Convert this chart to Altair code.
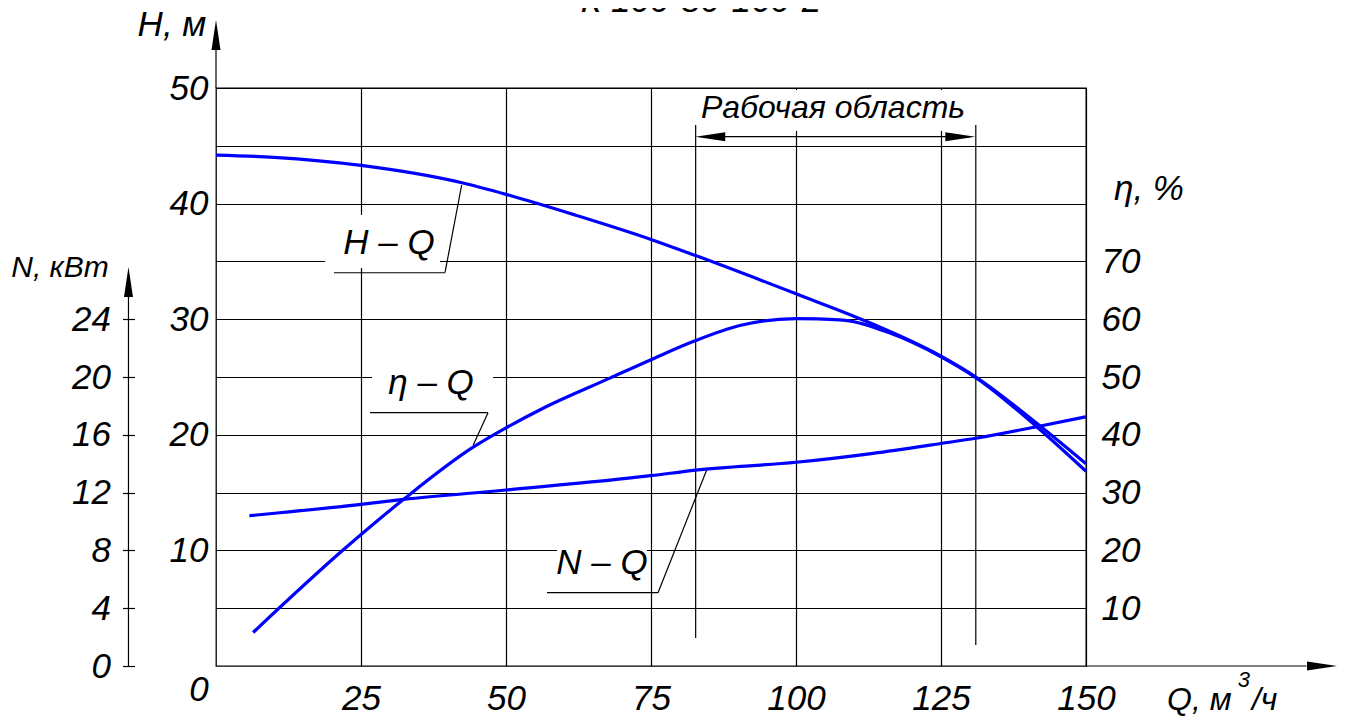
import altair as alt
import pandas as pd

# ---------------- data ----------------
TITLE = "К 100-80-160-2"

Q_H = [0, 10, 25, 42.4, 50, 62, 75, 82.7, 100, 112.2, 125, 131, 141.5, 150]
H_M = [44.2, 44.0, 43.3, 41.8, 40.8, 39.0, 36.9, 35.5, 32.2, 29.8, 26.8, 25.0, 21.0, 17.5]

Q_ETA = [6.4, 21.95, 32.3, 44.4, 50, 56.4, 67.9, 75, 82.7, 90.3, 100, 107.6, 116.2, 125, 131, 141.5, 150]
ETA_PCT = [5.8, 20.1, 28.8, 37.9, 41.2, 44.6, 49.8, 53.0, 56.3, 58.9, 60.1, 59.9, 57.6, 53.5, 49.9, 41.4, 33.7]

Q_N = [5.75, 25, 32.3, 50, 75, 82.7, 100, 113.3, 125, 131, 141.5, 150]
N_KW = [10.4, 11.19, 11.53, 12.18, 13.17, 13.56, 14.1, 14.72, 15.4, 15.76, 16.56, 17.25]

WORK_Q = [82.7, 131]          # limits of the working region
Q_TICKS = [25, 50, 75, 100, 125, 150]
H_GRID = [5, 10, 15, 20, 25, 30, 35, 40, 45, 50]
ETA_TICKS = [10, 20, 30, 40, 50, 60, 70]
N_TICKS = [0, 4, 8, 12, 16, 20, 24]

FONT = "Liberation Sans, Arial, sans-serif"
BLUE = "#0000ff"
FS = 35

XS = alt.Scale(domain=[0, 150], nice=False, zero=False)
YS = alt.Scale(domain=[0, 50], nice=False, zero=False)

AX_Q = alt.Axis(values=Q_TICKS, grid=True, domain=False, ticks=False, tickSize=0, title=None,
                labelPadding=15, labelAngle=0, labelFlush=False, labelOverlap=False)
AX_H = alt.Axis(values=H_GRID, grid=True, domain=False, ticks=False, tickSize=0, title=None,
                labelPadding=8, labelFlush=False, labelOverlap=False,
                labelExpr="datum.value % 10 == 0 ? datum.label : ''")


def X(f):
    return alt.X(f, type="quantitative", scale=XS, axis=AX_Q)


def Y(f):
    return alt.Y(f, type="quantitative", scale=YS, axis=AX_H)


# ---------------- annotation tables (in data units Q, H) ----------------
rects = pd.DataFrame([
    dict(q1=82.76, q2=130.69, h1=49.83, h2=46.28),   # Рабочая область
    dict(q1=18.79, q2=38.62, h1=39.01, h2=34.43),    # H - Q
    dict(q1=26.9, q2=47.76, h1=26.47, h2=22.58),     # eta - Q
    dict(q1=58.79, q2=74.31, h1=10.47, h2=7.44),     # N - Q
])

segs = pd.DataFrame([
    dict(q1=20.34, h1=34.02, q2=39.48, h2=34.02),
    dict(q1=39.48, h1=34.02, q2=42.36, h2=41.61),
    dict(q1=26.55, h1=21.91, q2=46.9, h2=21.91),
    dict(q1=46.9, h1=21.91, q2=44.36, h2=19.12),
    dict(q1=57.07, h1=6.34, q2=76.21, h2=6.34),
    dict(q1=76.21, h1=6.34, q2=84.6, h2=16.96),
    dict(q1=WORK_Q[0], h1=46.8, q2=WORK_Q[0], h2=2.42),
    dict(q1=WORK_Q[1], h1=46.8, q2=WORK_Q[1], h2=1.82),
    dict(q1=WORK_Q[0] + 1, h1=45.79, q2=WORK_Q[1] - 1, h2=45.79),
    dict(q1=0, h1=50, q2=0, h2=54.2),
    dict(q1=-15.09, h1=0, q2=-15.09, h2=32.6),
    dict(q1=150, h1=0, q2=188, h2=0),
])

arrows = pd.DataFrame([
    dict(q=0, h=54.58, a=0),
    dict(q=-15.09, h=33.22, a=0),
    dict(q=190.69, h=0, a=90),
    dict(q=85.22, h=45.79, a=270),
    dict(q=128.33, h=45.79, a=90),
])

texts_c = pd.DataFrame([
    dict(q=-7.59, h=55.45, t="H, м"),
    dict(q=160.86, h=41.26, t="η, %"),
    dict(q=-2.93, h=-2.08, t="0"),
    dict(q=29.83, h=36.59, t="H – Q"),
    dict(q=37.07, h=24.52, t="η – Q"),
    dict(q=66.55, h=8.91, t="N – Q"),
])

n_title = pd.DataFrame([dict(q=-26.9, h=34.43, t="N, кВт")])
work_txt = pd.DataFrame([dict(q=106.38, h=48.27, t="Рабочая область")])

texts_l = pd.DataFrame([
    dict(q=163.97, h=-2.95, t="Q, м"),
    dict(q=178.6, h=-2.95, t="/ч"),
])

sup = pd.DataFrame([dict(q=177.2, h=-1.2, t="3")])
title_df = pd.DataFrame([dict(q=83.6, h=56.57, t=TITLE)])

# ---------------- layers on the H scale ----------------
rect_layer = alt.Chart(rects).mark_rect(color="white").encode(
    x=X("q1"), x2="q2", y=Y("h1"), y2="h2")

seg_layer = alt.Chart(segs).mark_rule(color="black", strokeWidth=1.2).encode(
    x=X("q1"), x2="q2", y=Y("h1"), y2="h2")

arrow_layer = alt.Chart(arrows).mark_point(
    shape="M0,-1L0.3,1L-0.3,1Z", filled=True, color="black", opacity=1, size=900, strokeWidth=0
).encode(x=X("q"), y=Y("h"), angle=alt.Angle("a:Q", scale=None))

txt_c = alt.Chart(texts_c).mark_text(
    font=FONT, fontSize=FS, fontStyle="italic", color="black", align="center", baseline="middle"
).encode(x=X("q"), y=Y("h"), text="t:N")

txt_n = alt.Chart(n_title).mark_text(
    font=FONT, fontSize=30, fontStyle="italic", color="black", align="center", baseline="middle"
).encode(x=X("q"), y=Y("h"), text="t:N")

txt_work = alt.Chart(work_txt).mark_text(
    font=FONT, fontSize=32, fontStyle="italic", color="black", align="center", baseline="middle"
).encode(x=X("q"), y=Y("h"), text="t:N")

txt_l = alt.Chart(texts_l).mark_text(
    font=FONT, fontSize=32, fontStyle="italic", color="black", align="left", baseline="middle"
).encode(x=X("q"), y=Y("h"), text="t:N")

txt_sup = alt.Chart(sup).mark_text(
    font=FONT, fontSize=22, fontStyle="italic", color="black", align="center", baseline="middle"
).encode(x=X("q"), y=Y("h"), text="t:N")

txt_title = alt.Chart(title_df).mark_text(
    font=FONT, fontSize=FS, fontStyle="italic", color="black", align="center", baseline="alphabetic"
).encode(x=X("q"), y=Y("h"), text="t:N")

hdf = pd.DataFrame({"Q": Q_H, "H": H_M})
h_curve = alt.Chart(hdf).mark_line(color=BLUE, strokeWidth=3.2, interpolate="monotone").encode(
    x=X("Q"), y=Y("H"))

h_group = alt.layer(rect_layer, seg_layer, arrow_layer, txt_c, txt_n, txt_work, txt_l, txt_sup,
                    txt_title, h_curve)

# ---------------- efficiency (right axis) ----------------
edf = pd.DataFrame({"Q": Q_ETA, "eta": ETA_PCT})
eta_layer = alt.Chart(edf).mark_line(color=BLUE, strokeWidth=3.2, interpolate="monotone").encode(
    x=X("Q"),
    y=alt.Y("eta:Q", scale=alt.Scale(domain=[0, 100], nice=False, zero=False), axis=alt.Axis(
        orient="right", values=ETA_TICKS, grid=False, domain=False, ticks=False, tickSize=0,
        title=None, labelPadding=15, labelFlush=False, labelOverlap=False)),
)

# ---------------- power (outer left axis) ----------------
ndf = pd.DataFrame({"Q": Q_N, "N": N_KW})
n_layer = alt.Chart(ndf).mark_line(color=BLUE, strokeWidth=3.2, interpolate="monotone").encode(
    x=X("Q"),
    y=alt.Y("N:Q", scale=alt.Scale(domain=[0, 40], nice=False, zero=False), axis=alt.Axis(
        orient="left", offset=81.5, values=N_TICKS, grid=False, domain=False, ticks=True,
        tickSize=12, tickColor="black", tickWidth=1.2, title=None, labelPadding=12,
        labelFlush=False, labelOverlap=False)),
)

chart = alt.layer(h_group, eta_layer, n_layer).resolve_scale(y="independent").properties(
    width=870, height=578,
    autosize=alt.AutoSizeParams(type="none"),
    padding={"left": 208, "top": 80, "right": 253, "bottom": 52},
).configure_view(stroke="black", strokeWidth=1.3).configure_axis(
    labelFont=FONT, labelFontSize=FS, labelFontStyle="italic", labelColor="black",
    gridColor="black", gridOpacity=1, gridWidth=1.2,
)

chart.save("out.html", embed_options={"renderer": "svg", "actions": False})
